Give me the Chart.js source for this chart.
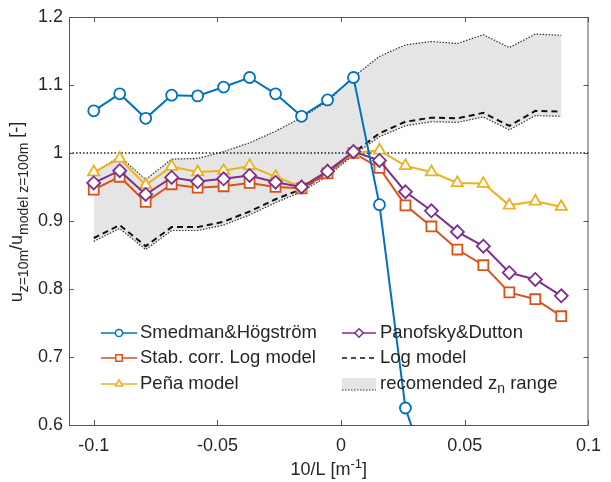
<!DOCTYPE html>
<html>
<head>
<meta charset="utf-8">
<script src="https://cdn.jsdelivr.net/npm/chart.js@4.4.1/dist/chart.umd.min.js"></script>
<style>
  html, body { margin: 0; padding: 0; background: #fff; }
</style>
</head>
<body>
<canvas id="myChart" width="611" height="482"></canvas>
<script>
// 10/L bins
var xVals = [-0.1, -0.0895, -0.079, -0.0685, -0.058, -0.0475, -0.037, -0.0265, -0.016, -0.0055,
             0.005, 0.0155, 0.026, 0.0365, 0.047, 0.0575, 0.068, 0.0785, 0.089];
var smedman  = [1.062, 1.087, 1.051, 1.085, 1.084, 1.097, 1.111, 1.087, 1.054, 1.078, 1.111, 0.924, 0.625, 0.51];
var stabLog  = [0.946, 0.965, 0.928, 0.954, 0.949, 0.951, 0.956, 0.950, 0.948, 0.970, 1.000, 0.978, 0.923, 0.892, 0.858, 0.835, 0.795, 0.785, 0.760];
var pena     = [0.972, 0.992, 0.953, 0.980, 0.972, 0.974, 0.981, 0.965, 0.950, 0.974, 1.000, 1.004, 0.981, 0.972, 0.956, 0.955, 0.923, 0.929, 0.921];
var panofsky = [0.956, 0.974, 0.939, 0.964, 0.958, 0.962, 0.967, 0.957, 0.950, 0.973, 1.002, 0.989, 0.943, 0.915, 0.884, 0.863, 0.824, 0.814, 0.790];
var logModel = [0.875, 0.894, 0.863, 0.891, 0.891, 0.899, 0.914, 0.932, 0.947, 0.970, 1.000, 1.029, 1.046, 1.052, 1.051, 1.059, 1.040, 1.062, 1.061];
var bandLow  = [0.870, 0.889, 0.858, 0.886, 0.886, 0.894, 0.909, 0.927, 0.943, 0.966, 0.997, 1.024, 1.040, 1.046, 1.045, 1.053, 1.034, 1.055, 1.054];
var bandHigh = [0.970, 0.995, 0.961, 0.991, 0.992, 1.002, 1.015, 1.032, 1.052, 1.076, 1.112, 1.142, 1.159, 1.164, 1.161, 1.174, 1.155, 1.175, 1.173];
var xTicks = [-0.1, -0.05, 0, 0.05, 0.1];
var yTicks = [0.6, 0.7, 0.8, 0.9, 1, 1.1, 1.2];
var refLevel = 1;

var FONT = '"Liberation Sans", Arial, sans-serif';
var TXT = '#262626';
var BLUE = '#0072BD', ORANGE = '#D95319', YELLOW = '#EDB120', PURPLE = '#7E2F8E';

function pts(ys) {
    return ys.map(function (y, i) { return { x: xVals[i], y: y }; });
}

function marked(label, ys, color, style, r) {
    return {
        label: label, data: pts(ys), borderColor: color, borderWidth: 2,
        pointStyle: style, pointRadius: r, pointBorderWidth: 1.8,
        pointBackgroundColor: '#fff', pointBorderColor: color, fill: false
    };
}

var datasets = [
    marked('Smedman&Högström', smedman, BLUE, 'circle', 5.5),
    marked('Panofsky&Dutton', panofsky, PURPLE, 'rectRot', 6.5),
    marked('Peña model', pena, YELLOW, 'triangle', 6.5),
    marked('Stab. corr. Log model', stabLog, ORANGE, 'rect', 7),
    { label: 'ref', data: [{ x: -0.11, y: refLevel }, { x: 0.1, y: refLevel }], borderColor: '#222',
      borderWidth: 1.5, borderDash: [1.5, 2], pointRadius: 0, fill: false },
    { label: 'Log model', data: pts(logModel), borderColor: '#111', borderWidth: 2,
      borderDash: [6, 4], pointRadius: 0, fill: false },
    { label: 'recomended range', data: pts(bandHigh), borderColor: '#333', borderWidth: 1.2,
      borderDash: [1.5, 1.5], pointRadius: 0, fill: '+1', backgroundColor: '#e5e5e5' },
    { label: 'band low', data: pts(bandLow), borderColor: '#333', borderWidth: 1.2,
      borderDash: [1.5, 1.5], pointRadius: 0, fill: false }
];

// box + inward ticks, like matlab
var framePlugin = {
    id: 'frame',
    afterDatasetsDraw: function (chart) {
        var ctx = chart.ctx, a = chart.chartArea;
        var xs = chart.scales.x, ys = chart.scales.y;
        ctx.save();
        ctx.strokeStyle = '#555';
        ctx.lineWidth = 1;
        ctx.strokeRect(a.left + 0.5, a.top + 0.5, a.right - a.left - 1, a.bottom - a.top);
        ctx.beginPath();
        xTicks.forEach(function (v) {
            var px = Math.round(xs.getPixelForValue(v)) + 0.5;
            ctx.moveTo(px, a.bottom); ctx.lineTo(px, a.bottom - 5);
            ctx.moveTo(px, a.top); ctx.lineTo(px, a.top + 5);
        });
        yTicks.forEach(function (v) {
            var py = Math.round(ys.getPixelForValue(v)) + 0.5;
            ctx.moveTo(a.left, py); ctx.lineTo(a.left + 5, py);
            ctx.moveTo(a.right, py); ctx.lineTo(a.right - 5, py);
        });
        ctx.stroke();
        ctx.restore();
    }
};

function drawRuns(ctx, runs, x, y) {
    runs.forEach(function (r) {
        ctx.font = r.size + 'px ' + FONT;
        ctx.fillText(r.t, x, y + (r.dy || 0));
        x += ctx.measureText(r.t).width;
    });
}
function runsWidth(ctx, runs) {
    var w = 0;
    runs.forEach(function (r) { ctx.font = r.size + 'px ' + FONT; w += ctx.measureText(r.t).width; });
    return w;
}

var legendPlugin = {
    id: 'manualLegend',
    afterDraw: function (chart) {
        var ctx = chart.ctx;
        var rows = [333, 358, 384];
        var col1 = { x0: 101, x1: 137, tx: 140 }, col2 = { x0: 342, x1: 376, tx: 380 };
        var LS = 18.5;
        var items = [
            { c: col1, row: 0, ds: 0, text: [{ t: 'Smedman&Högström', size: LS }] },
            { c: col1, row: 1, ds: 3, text: [{ t: 'Stab. corr. Log model', size: LS }] },
            { c: col1, row: 2, ds: 2, text: [{ t: 'Peña model', size: LS }] },
            { c: col2, row: 0, ds: 1, text: [{ t: 'Panofsky&Dutton', size: LS }] },
            { c: col2, row: 1, ds: 5, text: [{ t: 'Log model', size: LS }] },
            { c: col2, row: 2, ds: 6, text: [{ t: 'recomended z', size: LS }, { t: 'n', size: 14, dy: 5 }, { t: ' range', size: LS }] }
        ];
        ctx.save();
        items.forEach(function (it) {
            var y = rows[it.row], d = datasets[it.ds], c = it.c;
            if (it.ds === 6) {
                ctx.fillStyle = d.backgroundColor;
                ctx.fillRect(c.x0, y - 6, c.x1 - c.x0, 12);
                ctx.strokeStyle = d.borderColor; ctx.lineWidth = 1; ctx.setLineDash([1.5, 1.5]);
                ctx.beginPath(); ctx.moveTo(c.x0, y + 6); ctx.lineTo(c.x1, y + 6); ctx.stroke();
            } else {
                ctx.strokeStyle = d.borderColor; ctx.lineWidth = 1.5;
                ctx.setLineDash(d.borderDash ? [5, 4] : []);
                ctx.beginPath(); ctx.moveTo(c.x0, y); ctx.lineTo(c.x1, y); ctx.stroke();
                ctx.setLineDash([]);
                if (d.pointRadius > 0) {
                    ctx.fillStyle = '#fff'; ctx.lineWidth = 1.5;
                    Chart.helpers.drawPoint(ctx, { pointStyle: d.pointStyle, radius: d.pointRadius * 0.65,
                        rotation: 0, borderWidth: 1.5 }, (c.x0 + c.x1) / 2, y);
                }
            }
            ctx.setLineDash([]);
            ctx.fillStyle = TXT; ctx.textBaseline = 'middle'; ctx.textAlign = 'left';
            drawRuns(ctx, it.text, c.tx, y);
        });

        // axis titles
        var a = chart.chartArea;
        ctx.textBaseline = 'alphabetic';
        var xt = [{ t: '10/L [m', size: 18 }, { t: '-1', size: 13, dy: -7 }, { t: ']', size: 18 }];
        drawRuns(ctx, xt, (a.left + a.right) / 2 - runsWidth(ctx, xt) / 2, 475);

        var yt = [{ t: 'u', size: 18 }, { t: 'z=10m', size: 14, dy: 6 }, { t: '/u', size: 18 },
                  { t: 'model z=100m', size: 14, dy: 6 }, { t: ' [-]', size: 18 }];
        ctx.translate(22, 212);
        ctx.rotate(-Math.PI / 2);
        drawRuns(ctx, yt, -runsWidth(ctx, yt) / 2, 0);
        ctx.restore();
    }
};

var ctx = document.getElementById('myChart').getContext('2d');
var myChart = new Chart(ctx, {
    type: 'line',
    data: { datasets: datasets },
    options: {
        responsive: false,
        animation: false,
        layout: { padding: { left: 0, top: 17, right: 22, bottom: 0 } },
        elements: { line: { tension: 0 } },
        plugins: {
            legend: { display: false },
            tooltip: { enabled: false },
            filler: { drawTime: 'beforeDatasetsDraw' }
        },
        scales: {
            x: {
                type: 'linear', min: -0.11, max: 0.1,
                grid: { display: false, drawTicks: false },
                border: { display: false },
                afterBuildTicks: function (s) { s.ticks = xTicks.map(function (v) { return { value: v }; }); },
                afterFit: function (s) { s.height = 57; },
                ticks: {
                    padding: 10, color: TXT, maxRotation: 0, autoSkip: false,
                    font: { family: FONT, size: 18 },
                    callback: function (v) { return String(Math.round(v * 100) / 100); }
                }
            },
            y: {
                min: 0.6, max: 1.2,
                grid: { display: false, drawTicks: false },
                border: { display: false },
                afterBuildTicks: function (s) { s.ticks = yTicks.map(function (v) { return { value: v }; }); },
                afterFit: function (s) { s.width = 69; },
                ticks: {
                    padding: 6, color: TXT,
                    font: { family: FONT, size: 18 },
                    callback: function (v) { return String(Math.round(v * 10) / 10); }
                }
            }
        }
    },
    plugins: [framePlugin, legendPlugin]
});
</script>
</body>
</html>
